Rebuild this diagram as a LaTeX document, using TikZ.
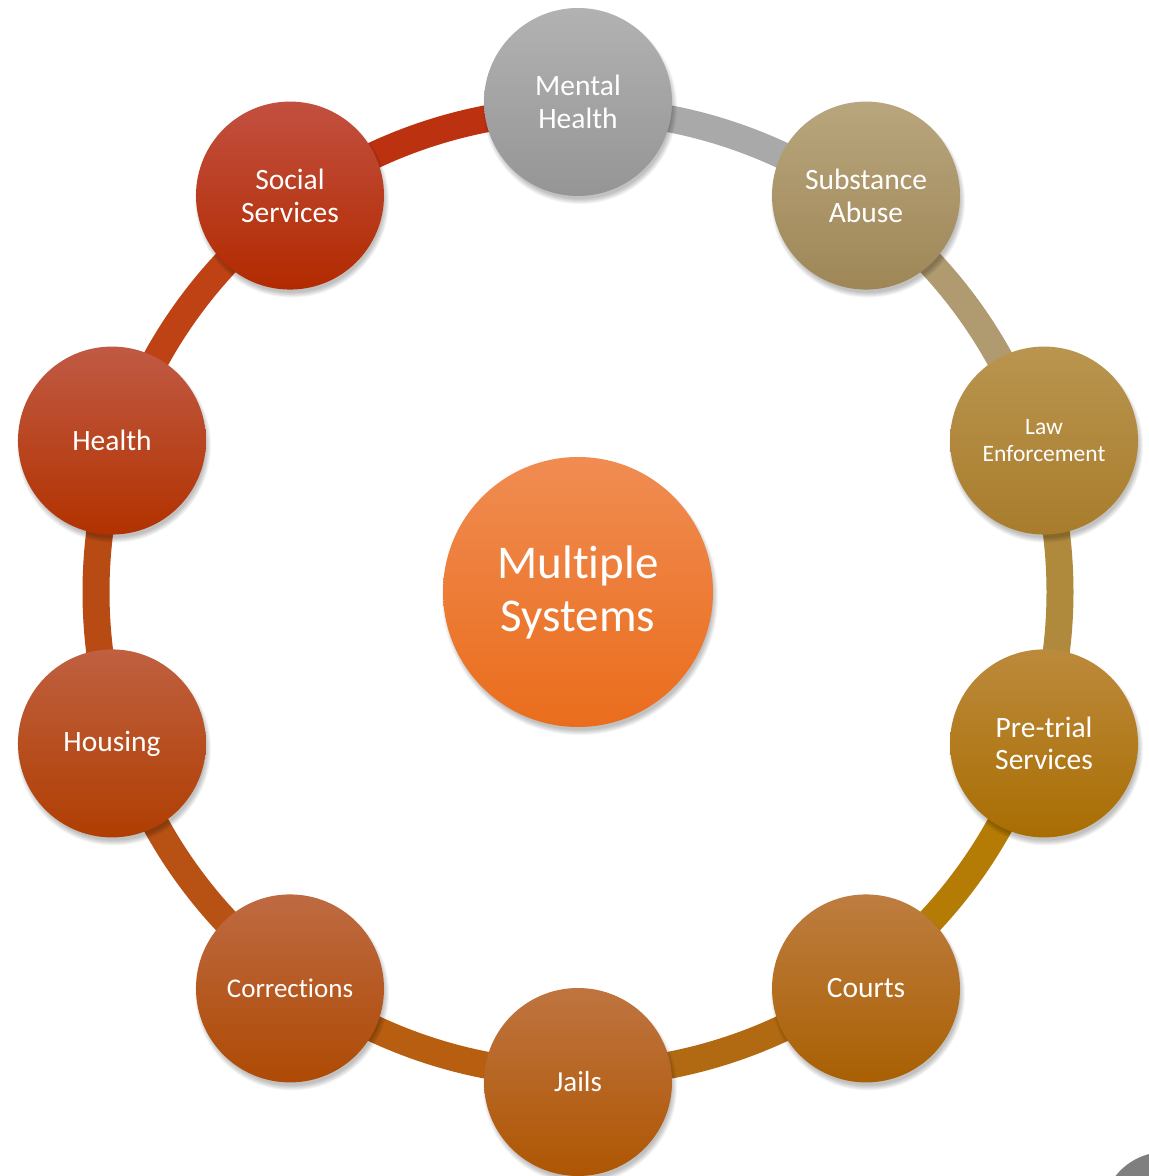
\documentclass[tikz,border=0pt]{standalone}
\usepackage{fontspec}
\setmainfont[Ligatures=NoCommon]{Carlito}
\usetikzlibrary{calc}

\definecolor{mhT}{HTML}{B2B2B2}\definecolor{mhB}{HTML}{959595}
\definecolor{saT}{HTML}{B9A67E}\definecolor{saB}{HTML}{9E8656}
\definecolor{leT}{HTML}{B9954F}\definecolor{leB}{HTML}{A97C2C}
\definecolor{ptT}{HTML}{BC8A3C}\definecolor{ptB}{HTML}{A96D02}
\definecolor{ctT}{HTML}{BE7D40}\definecolor{ctB}{HTML}{A96003}
\definecolor{jlT}{HTML}{BF7440}\definecolor{jlB}{HTML}{AE5603}
\definecolor{coT}{HTML}{BE6A42}\definecolor{coB}{HTML}{AE4A04}
\definecolor{hoT}{HTML}{BF6040}\definecolor{hoB}{HTML}{B03E02}
\definecolor{heT}{HTML}{C05A44}\definecolor{heB}{HTML}{B23200}
\definecolor{ssT}{HTML}{C25040}\definecolor{ssB}{HTML}{B22A00}
\definecolor{msT}{HTML}{F08C52}\definecolor{msB}{HTML}{EA6D1C}
\definecolor{rg0}{HTML}{A9A9A9}
\definecolor{rg1}{HTML}{B09A70}
\definecolor{rg2}{HTML}{B08A3C}
\definecolor{rg3}{HTML}{B47C05}
\definecolor{rg4}{HTML}{B26A12}
\definecolor{rg5}{HTML}{B85E10}
\definecolor{rg6}{HTML}{B85214}
\definecolor{rg7}{HTML}{B84A14}
\definecolor{rg8}{HTML}{BE4214}
\definecolor{rg9}{HTML}{BC3210}
\definecolor{cornergrey}{HTML}{7F7F7F}

\tikzset{
  sysnode/.style={circle, minimum size=188pt, inner sep=0pt, text=white,
    align=center, font=\fontsize{29.5}{33}\selectfont},
  ringseg/.style={line width=27pt},
}

\newcommand\placesys[6]{%
  \coordinate (#1-c) at ($(C)+(#2:490)$);
  \foreach \i in {0,...,5}{\fill[black,opacity=0.045] ($(#1-c)+(2,-5)$) circle ({97-\i});}
  \node[sysnode, top color=#3, bottom color=#4, font=#6] (#1) at (#1-c) {#5};
}

\begin{document}
\begin{tikzpicture}[x=1pt,y=1pt]
\useasboundingbox (0,0) rectangle (1149,1176);
\fill[white] (0,0) rectangle (1149,1176);
\coordinate (C) at (578,584);

% ring
\foreach \k in {0,...,9}{
  \coordinate (r\k) at ($(C)+({90-36*\k}:482)$);
  \draw[ringseg, color=rg\k] (r\k) arc[start angle={90-36*\k}, end angle={54-36*\k}, radius=482];
}

% ring nodes
\placesys{mh}{90}{mhT}{mhB}{Mental\\Health}{\fontsize{29.5}{33}\selectfont}
\placesys{sa}{54}{saT}{saB}{Substance\\Abuse}{\fontsize{29.5}{33}\selectfont}
\placesys{le}{18}{leT}{leB}{Law\\Enforcement}{\fontsize{23.5}{27}\selectfont}
\placesys{pt}{-18}{ptT}{ptB}{Pre-trial\\Services}{\fontsize{29.5}{32}\selectfont}
\placesys{ct}{-54}{ctT}{ctB}{Courts}{\fontsize{29.5}{32}\selectfont}
\placesys{jl}{-90}{jlT}{jlB}{Jails}{\fontsize{29}{32}\selectfont}
\placesys{co}{-126}{coT}{coB}{Corrections}{\fontsize{27}{32}\selectfont}
\placesys{ho}{-162}{hoT}{hoB}{Housing}{\fontsize{29.5}{32}\selectfont}
\placesys{he}{162}{heT}{heB}{Health}{\fontsize{29.5}{32}\selectfont}
\placesys{ss}{126}{ssT}{ssB}{Social\\Services}{\fontsize{29.5}{33}\selectfont}

% center
\foreach \i in {0,...,5}{\fill[black,opacity=0.045] ($(C)+(2,-5)$) circle ({138-\i});}
\node[circle, minimum size=270pt, inner sep=0pt, top color=msT, bottom color=msB,
  text=white, align=center, font=\fontsize{47}{53}\selectfont] (ms) at (C) {Multiple\\Systems};

% corner mark
\begin{scope}
  \clip (0,0) rectangle (1149,1176);
  \fill[cornergrey] (1165,-39) circle (63);
\end{scope}
\end{tikzpicture}
\end{document}
